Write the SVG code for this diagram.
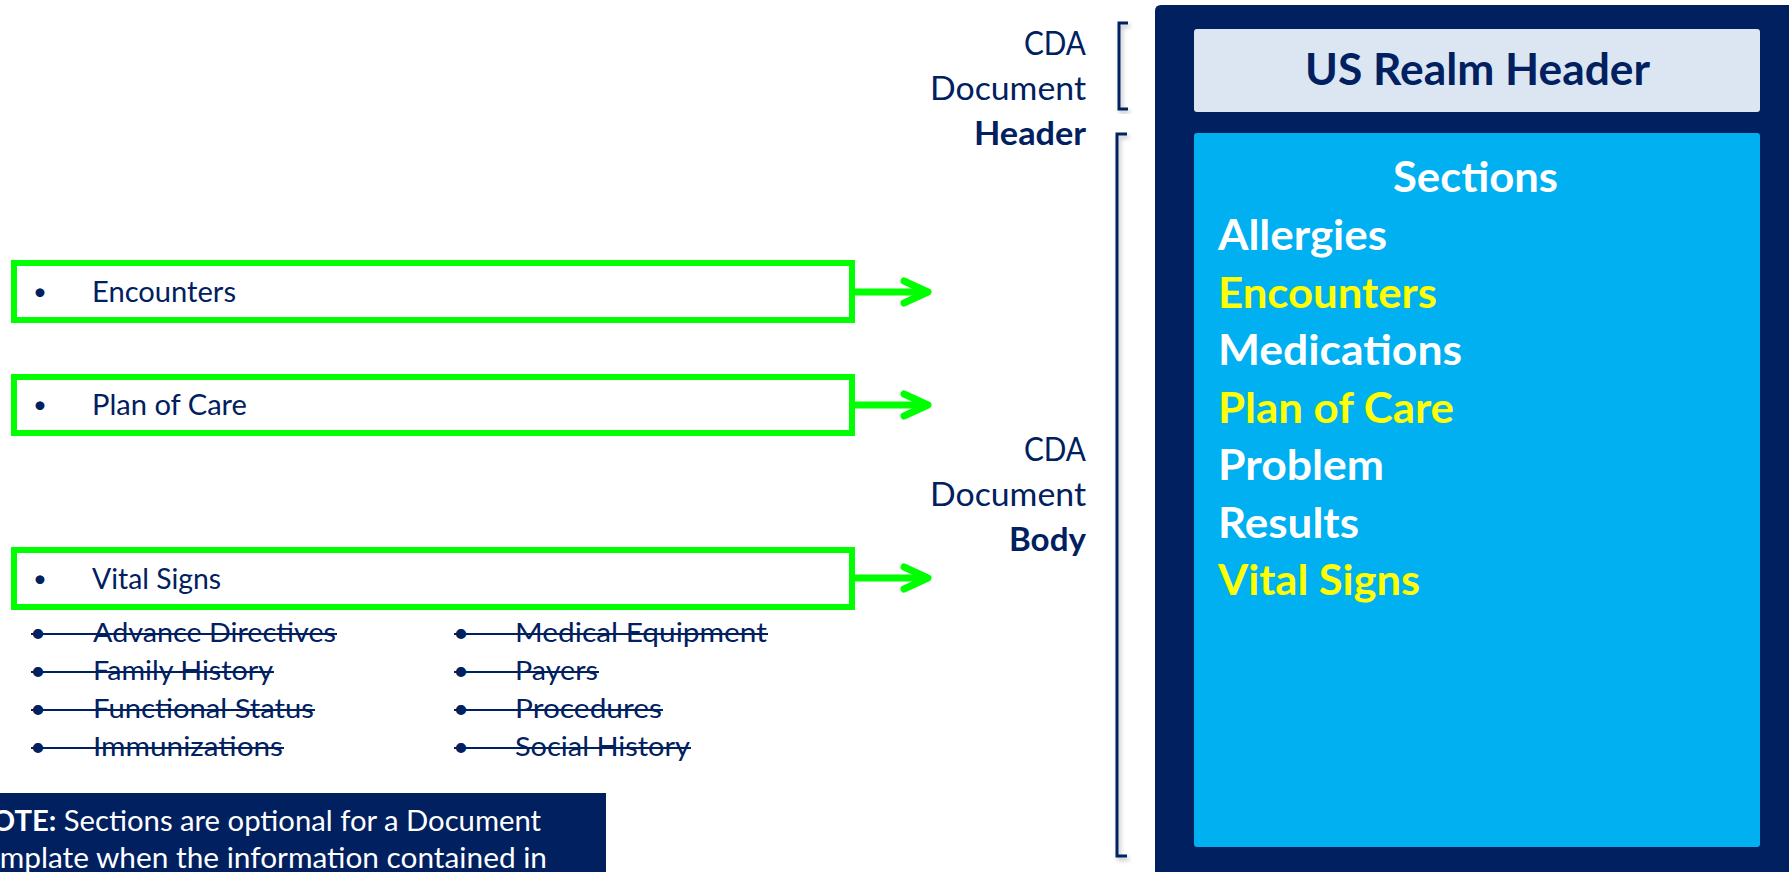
<svg xmlns="http://www.w3.org/2000/svg" width="1789" height="872" viewBox="0 0 1789 872">
  <style>
    text { font-family: Lato, "Liberation Sans", sans-serif; }
    .navy { fill: #002060; }
    .lbl { fill: #002060; font-size: 32px; }
    .b { font-weight: 700; }
    .sec { font-size: 42px; font-weight: 700; }
    .w { fill: #ffffff; }
    .y { fill: #ffff00; }
    .gbox { fill: #ffffff; stroke: #00ff00; stroke-width: 6; }
    .gtxt { fill: #002060; font-size: 28px; }
    .bul { fill: #002060; font-size: 24px; }
    .stxt { fill: #002060; font-size: 27.5px; }
    .strike { stroke: #002060; stroke-width: 2; }
    .brk { fill: none; stroke: #002060; stroke-width: 3; filter: url(#sh); }
    .arrow { fill: none; stroke: #00ff00; stroke-width: 7; stroke-linecap: butt; marker-end: url(#ah); }
    .note { fill: #ffffff; font-size: 28.5px; }
  </style>
  <defs>
    <filter id="sh" x="-50%" y="-5%" width="200%" height="110%">
      <feDropShadow dx="2" dy="3" stdDeviation="2" flood-color="#000000" flood-opacity="0.25"/>
    </filter>
    <marker id="ah" markerUnits="userSpaceOnUse" markerWidth="40" markerHeight="40" viewBox="0 0 40 40" refX="34" refY="20" orient="auto">
      <path d="M10,9 L34,20 L10,31" fill="none" stroke="#00ff00" stroke-width="7" stroke-linecap="round" stroke-linejoin="round"/>
    </marker>
  </defs>
  <rect width="1789" height="872" fill="#ffffff"/>

  <g id="document-panel">
    <path d="M1155,11 Q1155,5 1161,5 H1789 V872 H1155 Z" class="navy"/>
  </g>

  <g id="us-realm-header">
    <rect x="1194" y="29" width="566" height="83" rx="3" fill="#dce6f2"/>
    <text x="1305" y="85" class="b" fill="#002060" font-size="43" textLength="345" lengthAdjust="spacingAndGlyphs">US Realm Header</text>
  </g>

  <g id="sections">
    <rect x="1194" y="133" width="566" height="714" rx="3" fill="#00b0f0"/>
    <text x="1393" y="192" class="sec w" textLength="165" lengthAdjust="spacingAndGlyphs">Sections</text>
    <text x="1218" y="250" class="sec w" textLength="169" lengthAdjust="spacingAndGlyphs">Allergies</text>
    <text x="1218" y="307.5" class="sec y" textLength="219" lengthAdjust="spacingAndGlyphs">Encounters</text>
    <text x="1218" y="365" class="sec w" textLength="244" lengthAdjust="spacingAndGlyphs">Medications</text>
    <text x="1218" y="422.5" class="sec y" textLength="236" lengthAdjust="spacingAndGlyphs">Plan of Care</text>
    <text x="1218" y="480" class="sec w" textLength="166" lengthAdjust="spacingAndGlyphs">Problem</text>
    <text x="1218" y="537.5" class="sec w" textLength="141" lengthAdjust="spacingAndGlyphs">Results</text>
    <text x="1218" y="595" class="sec y" textLength="202" lengthAdjust="spacingAndGlyphs">Vital Signs</text>
  </g>

  <g id="header-label">
    <path class="brk" d="M1128,23 H1119 V109 H1128"/>
    <text x="1024" y="55" class="lbl" textLength="62" lengthAdjust="spacingAndGlyphs">CDA</text>
    <text x="930" y="100" class="lbl" textLength="156" lengthAdjust="spacingAndGlyphs">Document</text>
    <text x="974" y="145" class="lbl b" textLength="112" lengthAdjust="spacingAndGlyphs">Header</text>
  </g>

  <g id="body-label">
    <path class="brk" d="M1127,134 H1117 V856 H1127"/>
    <text x="1024" y="461" class="lbl" textLength="62" lengthAdjust="spacingAndGlyphs">CDA</text>
    <text x="930" y="506" class="lbl" textLength="156" lengthAdjust="spacingAndGlyphs">Document</text>
    <text x="1009" y="551" class="lbl b" textLength="77" lengthAdjust="spacingAndGlyphs">Body</text>
  </g>

  <g id="encounters-box">
    <rect class="gbox" x="14" y="263" width="838" height="57"/>
    <text x="33" y="300" class="bul">•</text>
    <text x="92" y="302" class="gtxt" textLength="144" lengthAdjust="spacingAndGlyphs">Encounters</text>
  </g>

  <g id="plan-of-care-box">
    <rect class="gbox" x="14" y="377" width="838" height="56"/>
    <text x="33" y="413" class="bul">•</text>
    <text x="92" y="415" class="gtxt" textLength="155" lengthAdjust="spacingAndGlyphs">Plan of Care</text>
  </g>

  <g id="vital-signs-box">
    <rect class="gbox" x="14" y="550" width="838" height="57"/>
    <text x="33" y="587" class="bul">•</text>
    <text x="92" y="589" class="gtxt" textLength="129" lengthAdjust="spacingAndGlyphs">Vital Signs</text>
  </g>

  <g id="excluded-sections">
    <text x="30" y="642" class="stxt">•</text>
    <text x="93" y="642" class="stxt" textLength="243" lengthAdjust="spacingAndGlyphs">Advance Directives</text>
    <line class="strike" x1="31" y1="634" x2="337" y2="634"/>
    <text x="30" y="680" class="stxt">•</text>
    <text x="93" y="680" class="stxt" textLength="180" lengthAdjust="spacingAndGlyphs">Family History</text>
    <line class="strike" x1="31" y1="672" x2="274" y2="672"/>
    <text x="30" y="718" class="stxt">•</text>
    <text x="93" y="718" class="stxt" textLength="221" lengthAdjust="spacingAndGlyphs">Functional Status</text>
    <line class="strike" x1="31" y1="710" x2="315" y2="710"/>
    <text x="30" y="756" class="stxt">•</text>
    <text x="93" y="756" class="stxt" textLength="190" lengthAdjust="spacingAndGlyphs">Immunizations</text>
    <line class="strike" x1="31" y1="748" x2="284" y2="748"/>

    <text x="453" y="642" class="stxt">•</text>
    <text x="515" y="642" class="stxt" textLength="252" lengthAdjust="spacingAndGlyphs">Medical Equipment</text>
    <line class="strike" x1="454" y1="634" x2="768" y2="634"/>
    <text x="453" y="680" class="stxt">•</text>
    <text x="515" y="680" class="stxt" textLength="83" lengthAdjust="spacingAndGlyphs">Payers</text>
    <line class="strike" x1="454" y1="672" x2="599" y2="672"/>
    <text x="453" y="718" class="stxt">•</text>
    <text x="515" y="718" class="stxt" textLength="147" lengthAdjust="spacingAndGlyphs">Procedures</text>
    <line class="strike" x1="454" y1="710" x2="663" y2="710"/>
    <text x="453" y="756" class="stxt">•</text>
    <text x="515" y="756" class="stxt" textLength="175" lengthAdjust="spacingAndGlyphs">Social History</text>
    <line class="strike" x1="454" y1="748" x2="691" y2="748"/>
  </g>

  <g id="note">
    <rect x="-10" y="793" width="616" height="90" class="navy"/>
    <text x="-31" y="831" class="note" textLength="572" lengthAdjust="spacingAndGlyphs"><tspan font-weight="700">NOTE:</tspan> Sections are optional for a Document</text>
    <text x="-30" y="868" class="note" textLength="577" lengthAdjust="spacingAndGlyphs">Template when the information contained in</text>
  </g>

  <g id="connectors">
    <line class="arrow" x1="855" y1="292" x2="928" y2="292"/>
    <line class="arrow" x1="855" y1="405" x2="928" y2="405"/>
    <line class="arrow" x1="855" y1="578" x2="928" y2="578"/>
  </g>
</svg>
